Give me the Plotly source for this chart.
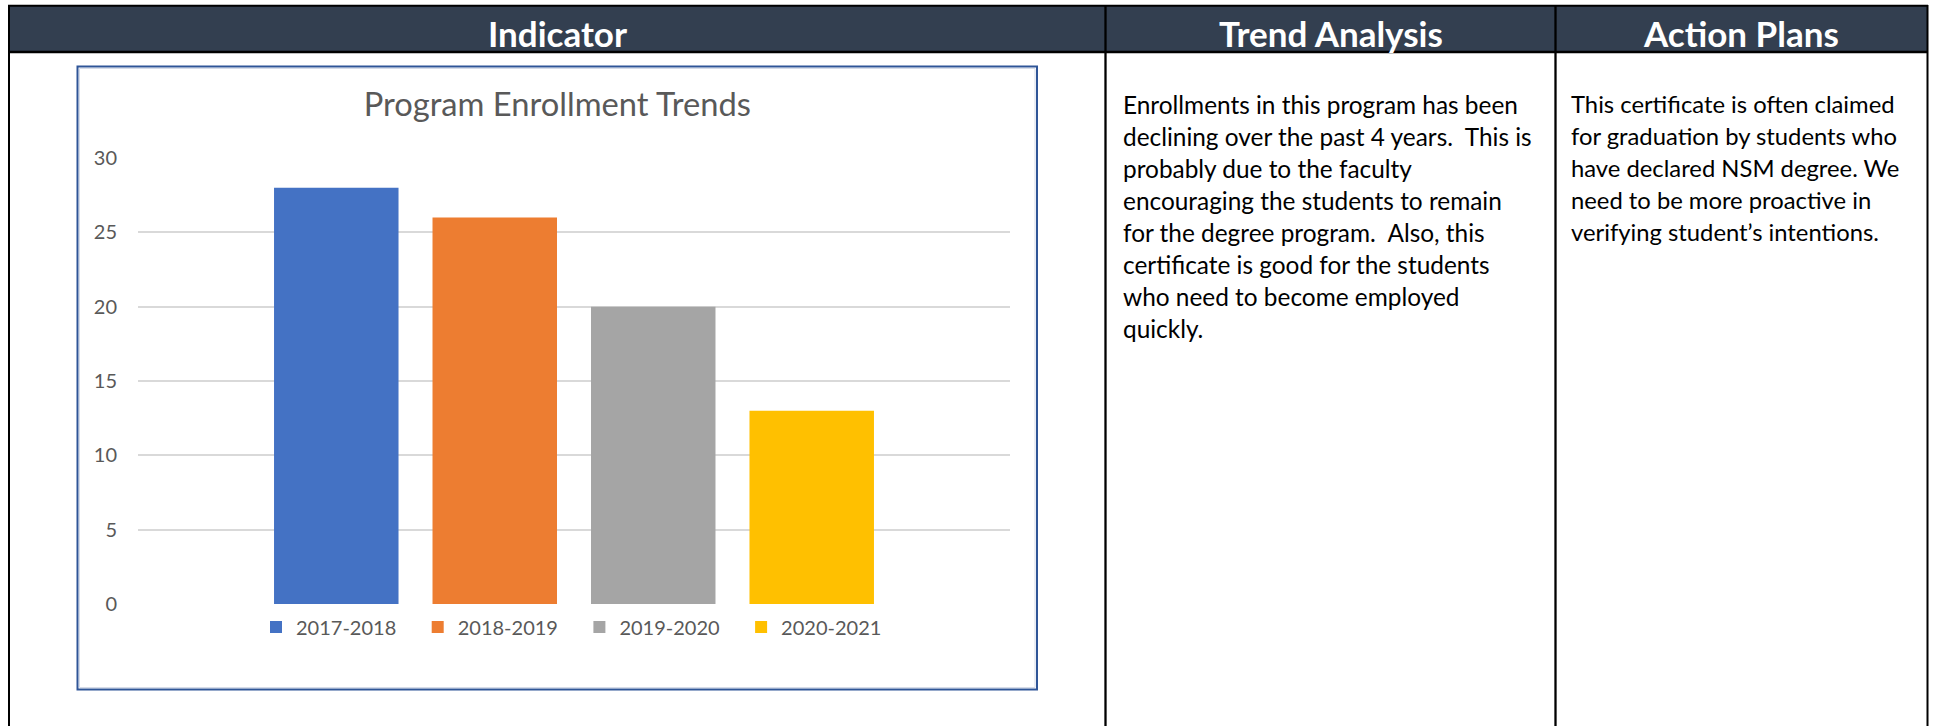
import plotly.graph_objects as go

W, H = 1933, 726

# ---- data ----
years = ["2017-2018", "2018-2019", "2019-2020", "2020-2021"]
enrollment = [28, 26, 20, 13]
bar_colors = ["#4472C4", "#ED7D31", "#A5A5A5", "#FFC000"]
category = ["Enrollment"]
y_ticks = [0, 5, 10, 15, 20, 25, 30]

chart_title = "Program Enrollment Trends"
headers = ["Indicator", "Trend Analysis", "Action Plans"]
trend_lines = [
    "Enrollments in this program has been",
    "declining over the past 4 years.  This is",
    "probably due to the faculty",
    "encouraging the students to remain",
    "for the degree program.  Also, this",
    "certificate is good for the students",
    "who need to become employed",
    "quickly.",
]
action_lines = [
    "This certificate is often claimed",
    "for graduation by students who",
    "have declared NSM degree. We",
    "need to be more proactive in",
    "verifying student\u2019s intentions.",
]

def px(x):
    return x / W

def py(y):
    return 1 - y / H

FONT = "Lato"

fig = go.Figure()
for name, val, col in zip(years, enrollment, bar_colors):
    fig.add_trace(go.Bar(x=category, y=[val], name=name, marker=dict(color=col, line=dict(width=0))))

shapes = []
# header band
shapes.append(dict(type="rect", xref="paper", yref="paper", x0=px(9), x1=px(1927), y0=py(6), y1=py(52),
                   fillcolor="#333F50", line=dict(width=0), layer="below"))

def hline(y, x0, x1, w):
    return dict(type="line", xref="paper", yref="paper", x0=px(x0), x1=px(x1), y0=py(y), y1=py(y),
                line=dict(color="black", width=w))

def vline(x, y0, y1, w):
    return dict(type="line", xref="paper", yref="paper", x0=px(x), x1=px(x), y0=py(y0), y1=py(y1),
                line=dict(color="black", width=w))

shapes.append(hline(5.8, 8, 1928, 2))
shapes.append(hline(52, 8, 1928, 2.7))
shapes.append(vline(9, 5, 740, 2))
shapes.append(vline(1927.5, 5, 740, 2))
shapes.append(vline(1105.5, 5, 740, 2.3))
shapes.append(vline(1555.5, 5, 740, 2.3))
# chart box
shapes.append(dict(type="rect", xref="paper", yref="paper", x0=px(77.5), x1=px(1037), y0=py(689.5), y1=py(66.5),
                   line=dict(color="#2F5597", width=2), fillcolor="rgba(0,0,0,0)", layer="below"))
shapes.append(dict(type="rect", xref="paper", yref="paper", x0=px(79.5), x1=px(1035), y0=py(687.5), y1=py(68.5),
                   line=dict(color="#D6DCE8", width=1), fillcolor="rgba(0,0,0,0)", layer="below"))

annotations = []
header_centers = [557, 1330.5, 1741]
for txt, cx in zip(headers, header_centers):
    annotations.append(dict(text="<b>%s</b>" % txt, x=px(cx), y=py(33), xref="paper", yref="paper",
                            xanchor="center", yanchor="middle", showarrow=False,
                            font=dict(family=FONT, size=35, color="white")))

LINE_PITCH = 32.0
FIRST_LINE = 104
for lines, x0, fs in ((trend_lines, 1121, 24.4), (action_lines, 1569, 23.8)):
    for i, ln in enumerate(lines):
        annotations.append(dict(text=ln, x=px(x0), y=py(FIRST_LINE + i * LINE_PITCH), xref="paper", yref="paper",
                                xanchor="left", yanchor="middle", align="left", showarrow=False,
                                font=dict(family=FONT, size=fs, color="black")))

fig.update_layout(
    width=W, height=H,
    autosize=False,
    margin=dict(l=0, r=0, t=0, b=0, pad=0, autoexpand=False),
    paper_bgcolor="white", plot_bgcolor="white",
    barmode="group", bargap=0.273, bargroupgap=0.2145,
    title=dict(text=chart_title, x=px(557.3), y=py(104.5), xref="paper", yref="paper",
               xanchor="center", yanchor="middle", automargin=False,
               font=dict(family=FONT, size=32.7, color="#595959")),
    xaxis=dict(domain=[px(138), px(1010)], range=[-0.5, 0.5], showticklabels=False, automargin=False,
               showgrid=False, zeroline=False, showline=False, fixedrange=True),
    yaxis=dict(domain=[py(604), py(158)], range=[0, 30], tickvals=y_ticks, automargin=False,
               showgrid=True, gridcolor="#D9D9D9", gridwidth=1.5, zeroline=False, showline=False,
               ticks="", ticklabelstandoff=20,
               tickfont=dict(family=FONT, size=20, color="#595959")),
    showlegend=True,
    legend=dict(orientation="h", x=px(256), y=py(627), xanchor="left", yanchor="middle",
                entrywidth=116.7, entrywidthmode="pixels", traceorder="normal",
                font=dict(family=FONT, size=20, color="#595959"), bgcolor="rgba(0,0,0,0)"),
    shapes=shapes,
    annotations=annotations,
)

fig.write_html("out.html")
